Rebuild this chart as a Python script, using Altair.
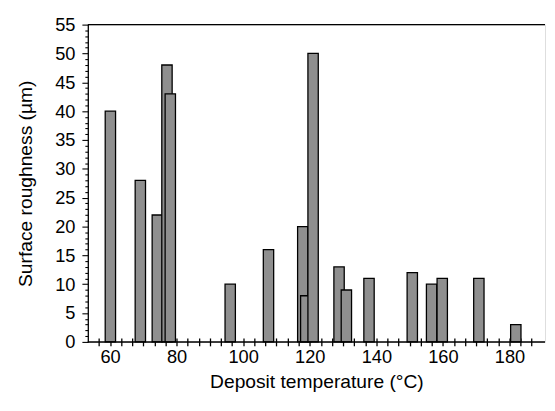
import altair as alt
import pandas as pd

# Data
temperature = [60.1, 69.1, 74.2, 77.1, 78.1, 96.1, 107.6, 117.9, 118.8, 121.0,
               128.8, 131.0, 137.8, 150.8, 156.6, 159.8, 170.8, 181.9]
roughness = [40, 28, 22, 48, 43, 10, 16, 20, 8, 50,
             13, 9, 11, 12, 10, 11, 11, 3]
x_labels = [60, 80, 100, 120, 140, 160, 180]
y_labels = [0, 5, 10, 15, 20, 25, 30, 35, 40, 45, 50, 55]
y_ticks = list(range(0, 56))
x_ticks = [round(60 + k * 10 / 3, 4) for k in range(-1, 39)]
frame_lines = [0, 55]

df = pd.DataFrame({"temp": temperature, "rough": roughness, "order": range(len(temperature))})
lines_df = pd.DataFrame({"rough": frame_lines})

FONT = "Liberation Sans"
xscale = alt.Scale(domain=[54.8, 189.2], nice=False, zero=False)
yscale = alt.Scale(domain=[0, 55], nice=False)

x_label_expr = ("abs(datum.value/20 - round(datum.value/20)) < 0.01 ? "
                "format(round(datum.value), 'd') : ''")
y_label_expr = "datum.value % 5 === 0 ? format(datum.value, 'd') : ''"

y_axis = alt.Axis(values=y_ticks, labelExpr=y_label_expr,
                  tickSize={"condition": {"test": "datum.value % 5 === 0", "value": 6},
                            "value": 3},
                  tickColor="black", tickWidth=1.1,
                  domainColor="black", domainWidth=1.3,
                  labelFont=FONT, labelFontSize=18.5, labelColor="black",
                  labelPadding=7, labelOverlap=False, labelFlush=False,
                  grid=False, orient="left",
                  title="Surface roughness (µm)", titleFont=FONT,
                  titleFontSize=19.5, titleFontWeight="normal",
                  titleColor="black", titlePadding=20)

bars = alt.Chart(df).mark_bar(
    orient="vertical", size=10.5, fill="#8f8f8f", stroke="black", strokeWidth=1.3
).encode(
    x=alt.X("temp:Q", scale=xscale,
            axis=alt.Axis(values=x_ticks, labelExpr=x_label_expr, tickSize=8, offset=-4,
                          domain=False, tickColor="black", tickWidth=1.3,
                          labelFont=FONT, labelFontSize=18.5, labelColor="black",
                          labelPadding=2, labelFlush=False, labelOverlap=False,
                          grid=False, title="Deposit temperature (°C)",
                          titleFont=FONT, titleFontSize=19.5, titleFontWeight="normal",
                          titleColor="black", titlePadding=7)),
    y=alt.Y("rough:Q", scale=yscale, axis=y_axis),
    order="order:Q",
)

frame = alt.Chart(lines_df).mark_rule(color="black", strokeWidth=1.5).encode(
    y=alt.Y("rough:Q", scale=yscale, axis=y_axis),
)

chart = alt.layer(bars, frame).properties(
    width=464, height=322,
    autosize=alt.AutoSizeParams(type="none"),
    padding={"left": 81, "top": 14, "right": 2, "bottom": 50},
).configure_view(stroke=None).configure(background="white")

chart.save("out.html", embed_options={"renderer": "svg", "actions": False})
